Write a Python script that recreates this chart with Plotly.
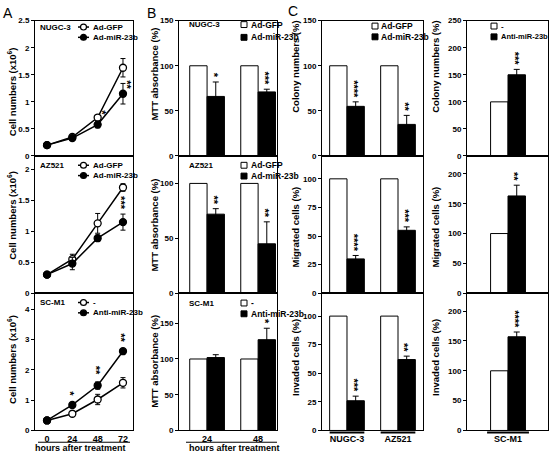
import plotly.graph_objects as go

# ---------------- data ----------------
hours = [0, 24, 48, 72]
hour_labels = ["0", "24", "48", "72"]

nugc_gfp = [0.20, 0.35, 0.71, 1.63]
nugc_gfp_err = [0.02, 0.03, 0.04, 0.17]
nugc_mir = [0.20, 0.33, 0.58, 1.15]
nugc_mir_err = [0.02, 0.03, 0.06, 0.19]

az_gfp = [0.30, 0.55, 1.13, 1.71]
az_gfp_err = [0.02, 0.08, 0.16, 0.06]
az_mir = [0.30, 0.48, 0.89, 1.15]
az_mir_err = [0.02, 0.10, 0.05, 0.13]

sc_ctrl = [0.33, 0.55, 1.02, 1.57]
sc_ctrl_err = [0.02, 0.08, 0.17, 0.17]
sc_anti = [0.33, 0.84, 1.48, 2.61]
sc_anti_err = [0.02, 0.06, 0.12, 0.05]

mtt_labels = ["24", "48"]
mtt_ctrl = [100, 100]
mtt_nugc = [66, 71]
mtt_nugc_err = [16, 3]
mtt_az = [72, 45]
mtt_az_err = [5, 20]
mtt_sc = [102, 127]
mtt_sc_err = [4, 16]

gc_lines = ["NUGC-3", "AZ521"]
ctrl_pct = [100, 100]
colony_mir = [55, 35]
colony_mir_err = [5, 10]
migr_mir = [30, 55]
migr_mir_err = [3, 3]
inv_mir = [26, 62]
inv_mir_err = [4, 3]

sc_label = ["SC-M1"]
sc_ctrl_pct = [100]
colony_anti = [150]
colony_anti_err = [10]
migr_anti = [163]
migr_anti_err = [18]
inv_anti = [157]
inv_anti_err = [8]

# significance marks (number of asterisks per point / bar)
sig_nugc_line = [0, 0, 1, 2]
sig_az_line = [0, 0, 0, 3]
sig_sc_line = [0, 1, 2, 2]
sig_mtt_nugc = [1, 3]
sig_mtt_az = [2, 2]
sig_mtt_sc = [0, 1]
sig_colony = [4, 2]
sig_migr = [4, 3]
sig_inv = [3, 2]
sig_colony_sc = [3]
sig_migr_sc = [2]
sig_inv_sc = [4]

# ---------------- layout helpers ----------------
W, H = 550, 459
FONT = "Arial, Liberation Sans, Helvetica, sans-serif"


def px(x):
    return x / W


def py(y):
    return 1 - y / H


cols = {"A": (35, 133), "B": (179, 277), "C1": (322, 423), "C2": (467, 548)}
rows = [(17, 155), (155, 295), (295, 435)]

fig = go.Figure()
layout = {}
annotations = []
shapes = []


def names(k):
    s = "" if k == 1 else str(k)
    return "xaxis" + s, "yaxis" + s, "x" + s, "y" + s


def make_axes(k, col, row, xrange, yrange, ytickvals, xtickvals=None,
              xticktext=None, xlabels=False):
    xa, ya, xr, yr = names(k)
    x0, x1 = cols[col]
    y0, y1 = rows[row]
    xd = dict(domain=[px(x0), px(x1)], range=xrange, anchor=yr,
              showline=True, mirror=True, linecolor="black", linewidth=1,
              showgrid=False, zeroline=False, ticks="",
              showticklabels=xlabels,
              tickfont=dict(family=FONT, size=9, color="black", weight="bold"))
    if xtickvals is not None:
        xd["tickvals"] = xtickvals
        xd["ticktext"] = xticktext
    yd = dict(domain=[py(y1), py(y0)], range=yrange, anchor=xr,
              showline=True, mirror=True, linecolor="black", linewidth=1,
              showgrid=False, zeroline=False, ticks="outside", ticklen=3,
              tickcolor="black", tickvals=ytickvals,
              tickfont=dict(family=FONT, size=8, color="black", weight="bold"))
    layout[xa] = xd
    layout[ya] = yd
    return xr, yr


def text(x, y, s, size=9, xanchor="left", angle=0, weight="bold"):
    annotations.append(dict(x=px(x), y=py(y), xref="paper", yref="paper",
                            text=s, showarrow=False, xanchor=xanchor,
                            yanchor="middle", textangle=angle,
                            font=dict(family=FONT, size=size, color="black",
                                      weight=weight)))


def stars(xr, yr, x, y, n, xshift=0, base=2):
    if n <= 0:
        return
    annotations.append(dict(x=x, y=y, xref=xr, yref=yr, text="*" * n,
                            showarrow=False, xanchor="center",
                            yanchor="bottom", textangle=90,
                            xshift=xshift - 2, yshift=base,
                            font=dict(family=FONT, size=11, color="black",
                                      weight="bold")))


def leg_line(x, y, filled, label, size=8):
    shapes.append(dict(type="line", xref="paper", yref="paper",
                       x0=px(x), x1=px(x + 11), y0=py(y), y1=py(y),
                       line=dict(color="black", width=1.5)))
    shapes.append(dict(type="circle", xref="paper", yref="paper",
                       x0=px(x + 2.5), x1=px(x + 8.5), y0=py(y + 3), y1=py(y - 3),
                       fillcolor="black" if filled else "white",
                       line=dict(color="black", width=1.2)))
    text(x + 12.5, y, label, size=size)


def leg_box(x, y, filled, label, size=8.5):
    shapes.append(dict(type="rect", xref="paper", yref="paper",
                       x0=px(x), x1=px(x + 6), y0=py(y + 3), y1=py(y - 3),
                       fillcolor="black" if filled else "white",
                       line=dict(color="black", width=1)))
    text(x + 7.5, y, label, size=size)


def line_pair(xr, yr, ya, ea, yb, eb):
    fig.add_trace(go.Scatter(
        x=hours, y=ya, xaxis=xr, yaxis=yr, mode="lines+markers",
        line=dict(color="black", width=1.5),
        marker=dict(symbol="circle", size=7, color="white",
                    line=dict(color="black", width=1.3)),
        error_y=dict(type="data", array=ea, color="black", thickness=1, width=2.5),
        showlegend=False))
    fig.add_trace(go.Scatter(
        x=hours, y=yb, xaxis=xr, yaxis=yr, mode="lines+markers",
        line=dict(color="black", width=1.5),
        marker=dict(symbol="circle", size=7, color="black",
                    line=dict(color="black", width=1.3)),
        error_y=dict(type="data", array=eb, color="black", thickness=1, width=2.5),
        showlegend=False))


BW = 0.34


def bar_pair(xr, yr, ctrl, vals, errs):
    idx = list(range(len(vals)))
    fig.add_trace(go.Bar(
        x=[i - BW / 2 for i in idx], y=ctrl, width=BW, xaxis=xr, yaxis=yr,
        marker=dict(color="white", line=dict(color="black", width=1)),
        showlegend=False))
    fig.add_trace(go.Bar(
        x=[i + BW / 2 for i in idx], y=vals, width=BW, xaxis=xr, yaxis=yr,
        marker=dict(color="black", line=dict(color="black", width=1)),
        error_y=dict(type="data", array=errs, color="black", thickness=1, width=3),
        showlegend=False))
    return idx


# ---------------- panel A ----------------
A_XR = [-11.4, 81.5]
xr, yr = make_axes(1, "A", 0, A_XR, [0, 2.5], [0, 0.5, 1, 1.5, 2, 2.5])
line_pair(xr, yr, nugc_gfp, nugc_gfp_err, nugc_mir, nugc_mir_err)
stars(xr, yr, hours[2], nugc_mir[2] + nugc_mir_err[2], sig_nugc_line[2], xshift=7, base=4)
stars(xr, yr, hours[3], nugc_mir[3], sig_nugc_line[3], xshift=6, base=2)

xr, yr = make_axes(2, "A", 1, A_XR, [0, 2.22], [0, 0.5, 1, 1.5, 2])
line_pair(xr, yr, az_gfp, az_gfp_err, az_mir, az_mir_err)
stars(xr, yr, hours[3], az_mir[3] + az_mir_err[3], sig_az_line[3], base=2)

xr, yr = make_axes(3, "A", 2, A_XR, [0, 4.52], [0, 1, 2, 3, 4],
                   xtickvals=hours, xticktext=hour_labels, xlabels=True)
line_pair(xr, yr, sc_ctrl, sc_ctrl_err, sc_anti, sc_anti_err)
for i in range(4):
    stars(xr, yr, hours[i], sc_anti[i] + sc_anti_err[i], sig_sc_line[i], base=5)

# ---------------- panel B ----------------
B_XR = [-0.55, 1.37]
xr, yr = make_axes(4, "B", 0, B_XR, [0, 150], [0, 50, 100, 150])
idx = bar_pair(xr, yr, mtt_ctrl, mtt_nugc, mtt_nugc_err)
for i in idx:
    stars(xr, yr, i + BW / 2, mtt_nugc[i] + mtt_nugc_err[i], sig_mtt_nugc[i])

xr, yr = make_axes(5, "B", 1, B_XR, [0, 125], [0, 50, 100])
idx = bar_pair(xr, yr, mtt_ctrl, mtt_az, mtt_az_err)
for i in idx:
    stars(xr, yr, i + BW / 2, mtt_az[i] + mtt_az_err[i], sig_mtt_az[i])

xr, yr = make_axes(6, "B", 2, B_XR, [0, 192], [0, 50, 100, 150],
                   xtickvals=[0, 1], xticktext=mtt_labels, xlabels=True)
idx = bar_pair(xr, yr, mtt_ctrl, mtt_sc, mtt_sc_err)
for i in idx:
    stars(xr, yr, i + BW / 2, mtt_sc[i] + mtt_sc_err[i], sig_mtt_sc[i])

# ---------------- panel C (NUGC-3, AZ521) ----------------
C1_XR = [-0.49, 1.49]
xr, yr = make_axes(7, "C1", 0, C1_XR, [0, 150], [0, 50, 100, 150])
idx = bar_pair(xr, yr, ctrl_pct, colony_mir, colony_mir_err)
for i in idx:
    stars(xr, yr, i + BW / 2, colony_mir[i] + colony_mir_err[i], sig_colony[i])

xr, yr = make_axes(8, "C1", 1, C1_XR, [0, 120], [0, 25, 50, 75, 100])
idx = bar_pair(xr, yr, ctrl_pct, migr_mir, migr_mir_err)
for i in idx:
    stars(xr, yr, i + BW / 2, migr_mir[i] + migr_mir_err[i], sig_migr[i])

xr, yr = make_axes(9, "C1", 2, C1_XR, [0, 120], [0, 25, 50, 75, 100],
                   xtickvals=[0, 1], xticktext=gc_lines, xlabels=True)
idx = bar_pair(xr, yr, ctrl_pct, inv_mir, inv_mir_err)
for i in idx:
    stars(xr, yr, i + BW / 2, inv_mir[i] + inv_mir_err[i], sig_inv[i])
for i in idx:
    shapes.append(dict(type="line", xref=xr, yref="paper", x0=i - BW, x1=i + BW,
                       y0=py(437), y1=py(437), line=dict(color="black", width=2)))

# ---------------- panel C (SC-M1) ----------------
C2_XR = [-0.80, 0.78]
xr, yr = make_axes(10, "C2", 0, C2_XR, [0, 250], [0, 50, 100, 150, 200, 250])
idx = bar_pair(xr, yr, sc_ctrl_pct, colony_anti, colony_anti_err)
stars(xr, yr, BW / 2, colony_anti[0] + colony_anti_err[0], sig_colony_sc[0])

xr, yr = make_axes(11, "C2", 1, C2_XR, [0, 230], [0, 50, 100, 150, 200])
idx = bar_pair(xr, yr, sc_ctrl_pct, migr_anti, migr_anti_err)
stars(xr, yr, BW / 2, migr_anti[0] + migr_anti_err[0], sig_migr_sc[0])

xr, yr = make_axes(12, "C2", 2, C2_XR, [0, 230], [0, 50, 100, 150, 200],
                   xtickvals=[0], xticktext=sc_label, xlabels=True)
idx = bar_pair(xr, yr, sc_ctrl_pct, inv_anti, inv_anti_err)
stars(xr, yr, BW / 2, inv_anti[0] + inv_anti_err[0], sig_inv_sc[0])
shapes.append(dict(type="line", xref=xr, yref="paper", x0=-BW * 1.2, x1=BW * 1.2,
                   y0=py(437), y1=py(437), line=dict(color="black", width=2)))

# ---------------- texts: panel letters, y titles, legends ----------------
text(1, 9, "A", size=14, weight="normal")
text(145, 9, "B", size=14, weight="normal")
text(286, 7, "C", size=14, weight="normal")

cell_title = "Cell numbers (x10<sup>6</sup>)"
for yc in (90, 216, 363):
    text(12, yc, cell_title, size=9.5, xanchor="center", angle=-90)
for yc in (72, 226, 365):
    text(155, yc, "MTT absorbance (%)", size=9.5, xanchor="center", angle=-90)
for x in (296, 436):
    for yc, t in zip((64, 228, 361),
                     ("Colony numbers (%)", "Migrated cells (%)", "Invaded cells (%)")):
        text(x, yc, t, size=9.5, xanchor="center", angle=-90)

# A legends
text(38, 23.5, "NUGC-3", size=8)
leg_line(78, 23.5, False, "Ad-GFP")
leg_line(78, 34, True, "Ad-miR-23b")
text(38, 164.5, "AZ521", size=8)
leg_line(78, 164.5, False, "Ad-GFP")
leg_line(78, 175, True, "Ad-miR-23b")
text(38, 304.5, "SC-M1", size=8)
leg_line(78, 304.5, False, "-")
leg_line(78, 315, True, "Anti-miR-23b")

# B legends
text(187, 21, "NUGC-3", size=8)
leg_box(241, 21, False, "Ad-GFP")
leg_box(241, 34, True, "Ad-miR-23b")
text(187, 165, "AZ521", size=8)
leg_box(241, 164.5, False, "Ad-GFP")
leg_box(241, 175.5, True, "Ad-miR-23b")
text(187, 305, "SC-M1", size=8)
leg_box(241, 305, False, "-")
leg_box(241, 316, True, "Anti-miR-23b")

# C legends
leg_box(372, 22.5, False, "Ad-GFP")
leg_box(372, 33.5, True, "Ad-miR-23b")
leg_box(491, 22.5, False, "-", size=8)
leg_box(491, 33.5, True, "Anti-miR-23b", size=7.5)

# x-axis captions
shapes.append(dict(type="line", xref="paper", yref="paper", x0=px(38), x1=px(130),
                   y0=py(447), y1=py(447), line=dict(color="black", width=1)))
text(80, 453, "hours after treatment", size=9, xanchor="center")
shapes.append(dict(type="line", xref="paper", yref="paper", x0=px(186), x1=px(277),
                   y0=py(447), y1=py(447), line=dict(color="black", width=1)))
text(234, 453, "hours after treatment", size=9, xanchor="center")

fig.update_layout(
    width=W, height=H, margin=dict(l=0, r=0, t=0, b=0),
    paper_bgcolor="white", plot_bgcolor="white",
    barmode="overlay", showlegend=False,
    font=dict(family=FONT, size=9, color="black"),
    annotations=annotations, shapes=shapes, **layout)

fig.write_html("out.html", config={"displayModeBar": False},
               post_script="document.body.style.margin='0px';")
